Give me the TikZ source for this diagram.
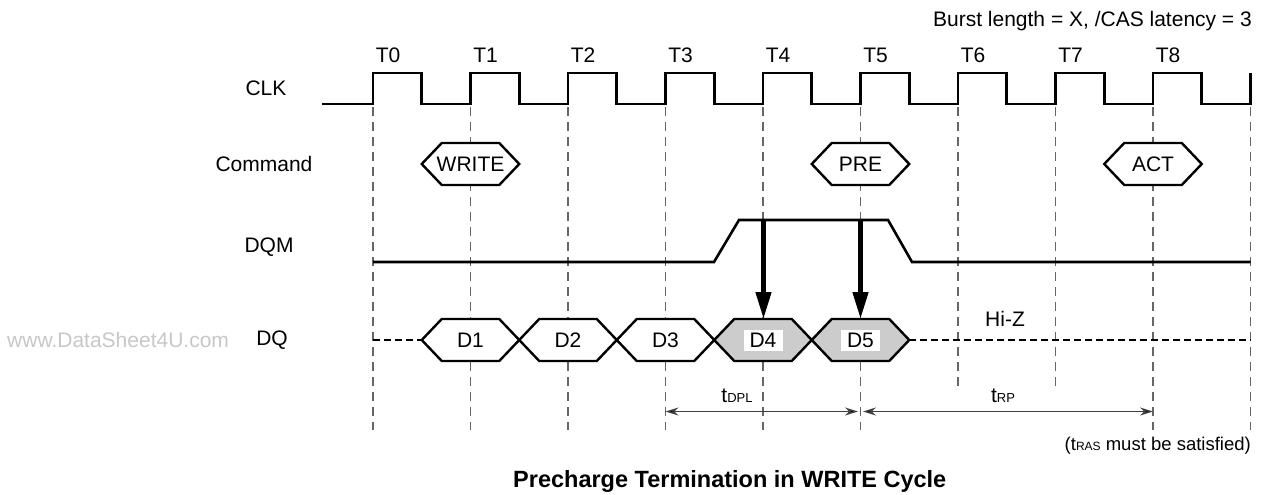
\documentclass[tikz,border=0pt]{standalone}
\usepackage{fontspec}
\setmainfont{Liberation Sans}
\usetikzlibrary{arrows.meta}
\newcommand\hexsig[6]{%
  \draw[hexbox, fill=#5] (#2,#4) -- ++(20,-21) -- ({#3-20},{#4-21}) -- (#3,#4)
     -- ({#3-20},{#4+21}) -- ({#2+20},{#4+21}) -- cycle;
  \node[lbl] (#1) at ({(#2+#3)/2},#4) {#6};
}
\begin{document}
\begin{tikzpicture}[x=1pt,y=-1pt,
  lbl/.style={font=\fontsize{21}{25}\selectfont, inner sep=0pt},
  sig/.style={line width=2.6pt, line join=miter},
  gridline/.style={draw=black!60, line width=1.2pt, dash pattern=on 9pt off 6pt},
  hexbox/.style={line width=2.4pt, line join=miter},
  bigarrow/.style={line width=4.5pt, -{Triangle[length=27pt,width=15pt]}},
  timearrow/.style={line width=1.3pt, draw=black!75, {Stealth[length=13pt,width=8pt,fill=black]}-{Stealth[length=13pt,width=8pt,fill=black]}},
  hiz/.style={line width=2.6pt, dash pattern=on 7pt off 4pt}]
\useasboundingbox (0,0) rectangle (1261,495);

% vertical reference lines
\foreach \i in {0,...,9}{
  \pgfmathsetmacro\xx{373+97.5*\i}
  \ifnum\i=6 \def\yb{389}\else\ifnum\i=7 \def\yb{389}\else\def\yb{430}\fi\fi
  \draw[gridline] (\xx,107) -- (\xx,\yb);
}

% clock
\draw[sig] (322,104) \foreach \i in {0,...,8}{
   -- ({373+97.5*\i},104) -- ({373+97.5*\i},73) -- ({421.75+97.5*\i},73) -- ({421.75+97.5*\i},104)}
   -- (1250.5,104) -- (1250.5,73);

% clock labels
\foreach \i in {0,...,8}{
  \pgfmathsetmacro\xx{373+97.5*\i+15}
  \node[lbl] (t\i) at (\xx,55) {T\i};
}

% signal names
\node[lbl] (clk) at (266,88) {CLK};
\node[lbl] (cmd) at (264,164) {Command};
\node[lbl] (dqm) at (269,247) {DQM};
\node[lbl] (dq) at (272,340) {DQ};
\node[lbl, text=black!22, anchor=west] (wm) at (7,340) {www.DataSheet4U.com};

% commands
\hexsig{write}{421.75}{519.25}{164}{white}{WRITE}
\hexsig{pre}{811.75}{909.25}{164}{white}{PRE}
\hexsig{act}{1104.25}{1201.75}{164}{white}{ACT}

% DQM
\draw[sig] (373,262) -- (714,262) -- (739,220) -- (888,220) -- (912,262) -- (1250.5,262);

% DQ
\draw[hiz] (373,340) -- (421.75,340);
\draw[hiz] (909.25,340) -- (1250.5,340);
\hexsig{d1}{421.75}{519.25}{340}{white}{D1}
\hexsig{d2}{519.25}{616.75}{340}{white}{D2}
\hexsig{d3}{616.75}{714.25}{340}{white}{D3}
\hexsig{d4}{714.25}{811.75}{340}{black!20}{}
\hexsig{d5}{811.75}{909.25}{340}{black!20}{}
\node[lbl, fill=white, minimum width=39pt, minimum height=21pt] (d4l) at (763,340) {D4};
\node[lbl, fill=white, minimum width=39pt, minimum height=21pt] (d5l) at (860.5,340) {D5};
\node[lbl, anchor=west] (hiz) at (985,319) {Hi-Z};

% DQM masking arrows
\coordinate (m4) at (763.5,220);
\coordinate (m5) at (860.5,220);
\coordinate (d4top) at (763.5,319);
\coordinate (d5top) at (860.5,319);
\draw[bigarrow] (m4) -- (d4top);
\draw[bigarrow] (m5) -- (d5top);

% timing
\coordinate (a3) at (665.5,411.5);
\coordinate (a5l) at (858,411.5);
\coordinate (a5r) at (863,411.5);
\coordinate (a8) at (1153,411.5);
\draw[timearrow] (a3) -- (a5l);
\draw[timearrow] (a5r) -- (a8);
\node[lbl] (tdpl) at (737,396) {t{\fontsize{13}{13}\selectfont DPL}};
\node[lbl] (trp) at (1003,396) {t{\fontsize{13}{13}\selectfont RP}};

\node[font=\fontsize{18.5}{22}\selectfont, inner sep=0pt, anchor=base east] (tras) at (1251,450) {(t{\fontsize{12}{12}\selectfont RAS} must be satisfied)};
\node[lbl, anchor=base east] (burst) at (1252,27) {Burst length = X, /CAS latency = 3};
\node[font=\bfseries\fontsize{23.5}{27}\selectfont, inner sep=0pt, anchor=base west] (cap) at (513,487) {Precharge Termination in WRITE Cycle};
\end{tikzpicture}
\end{document}
